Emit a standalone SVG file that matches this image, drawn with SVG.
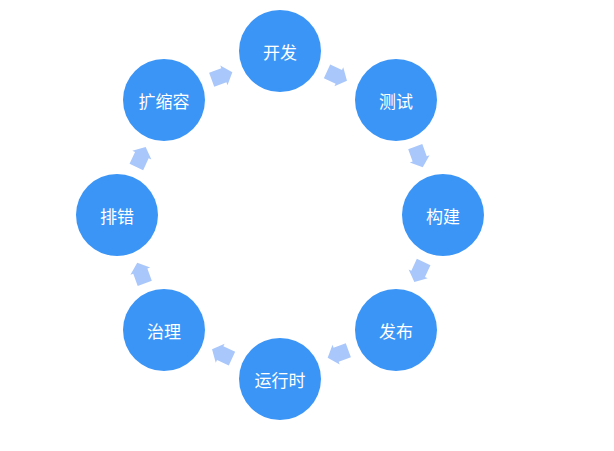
<svg xmlns="http://www.w3.org/2000/svg" width="614" height="451" viewBox="0 0 614 451">
<style>
.n{fill:#3b95f6}
.t{fill:#ffffff;font-family:"Noto Sans CJK SC","Noto Sans",sans-serif;font-size:17px;text-anchor:middle;dominant-baseline:central}
.a{fill:#a9c7fb}
</style>
<defs>
<path id="arr" d="M-11,-7.5 L2,-7.5 L2,-10.5 L11,0 L2,10.5 L2,7.5 L-11,7.5 Z"/>
</defs>
<rect width="614" height="451" fill="#ffffff"/>
<g id="connectors">
<use href="#arr" class="a" transform="translate(337,76) rotate(25)"/>
<use href="#arr" class="a" transform="translate(419,157) rotate(70)"/>
<use href="#arr" class="a" transform="translate(419,272) rotate(115)"/>
<use href="#arr" class="a" transform="translate(338,354) rotate(160)"/>
<use href="#arr" class="a" transform="translate(222,354) rotate(205)"/>
<use href="#arr" class="a" transform="translate(141,273) rotate(250)"/>
<use href="#arr" class="a" transform="translate(141,157) rotate(295)"/>
<use href="#arr" class="a" transform="translate(222,76) rotate(340)"/>
</g>
<g id="n-dev"><circle class="n" cx="280" cy="51" r="41"/><text class="t" x="280" y="51">开发</text></g>
<g id="n-test"><circle class="n" cx="396" cy="100" r="41"/><text class="t" x="396" y="100">测试</text></g>
<g id="n-build"><circle class="n" cx="443" cy="215" r="41"/><text class="t" x="443" y="215">构建</text></g>
<g id="n-release"><circle class="n" cx="396" cy="330" r="41"/><text class="t" x="396" y="330">发布</text></g>
<g id="n-runtime"><circle class="n" cx="280" cy="379" r="41"/><text class="t" x="280" y="379">运行时</text></g>
<g id="n-govern"><circle class="n" cx="164" cy="330" r="41"/><text class="t" x="164" y="330">治理</text></g>
<g id="n-debug"><circle class="n" cx="117" cy="215" r="41"/><text class="t" x="117" y="215">排错</text></g>
<g id="n-scale"><circle class="n" cx="164" cy="100" r="41"/><text class="t" x="164" y="100">扩缩容</text></g>
</svg>
